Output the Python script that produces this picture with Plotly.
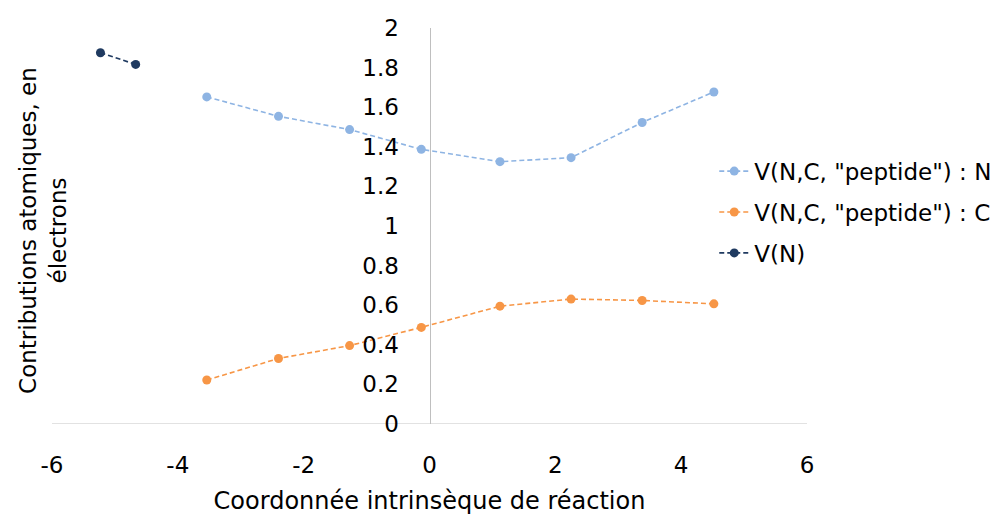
import plotly.graph_objects as go

# Data
x_main = [-3.54, -2.40, -1.27, -0.13, 1.12, 2.25, 3.38, 4.52]
y_pep_N = [1.652, 1.554, 1.487, 1.387, 1.325, 1.345, 1.523, 1.677]
y_pep_C = [0.222, 0.331, 0.396, 0.488, 0.595, 0.631, 0.624, 0.607]
x_VN = [-5.23, -4.67]
y_VN = [1.875, 1.816]

x_tickvals = [-6, -4, -2, 0, 2, 4, 6]
x_ticktext = ["-6", "-4", "-2", "0", "2", "4", "6"]

name_N = 'V(N,C, "peptide") : N'
name_C = 'V(N,C, "peptide") : C'
name_VN = 'V(N)'

col_N = "#8eb4e3"
col_C = "#f79646"
col_VN = "#1f3a60"

FONT = "DejaVu Sans"

fig = go.Figure()
for xs, ys, nm, col, grp in [
    (x_main, y_pep_N, name_N, col_N, "a"),
    (x_main, y_pep_C, name_C, col_C, "b"),
    (x_VN, y_VN, name_VN, col_VN, "c"),
]:
    fig.add_trace(go.Scatter(
        x=xs, y=ys, name=nm, mode="lines+markers", legendgroup=grp,
        line=dict(color=col, width=1.6, dash="5px,3px"),
        marker=dict(color=col, size=9),
    ))

fig.update_layout(
    width=1000, height=508,
    margin=dict(l=44, r=200, t=20, b=92),
    paper_bgcolor="white", plot_bgcolor="white",
    font=dict(family=FONT, size=22, color="#000000"),
    showlegend=True,
    legend=dict(
        x=0.876, y=0.535, xanchor="left", yanchor="middle",
        xref="paper", yref="paper",
        font=dict(family=FONT, size=23, color="#000000"),
        tracegroupgap=8, itemwidth=30, bgcolor="rgba(0,0,0,0)",
    ),
    xaxis=dict(
        range=[-6, 6], tickvals=x_tickvals, ticktext=x_ticktext,
        showgrid=False, zeroline=False, automargin=False,
        showline=False, ticks="outside", ticklen=20, tickcolor="rgba(0,0,0,0)",
        tickfont=dict(family=FONT, size=23),
        title=dict(text="Coordonnée intrinsèque de réaction",
                   font=dict(family=FONT, size=24), standoff=15),
        anchor="y",
    ),
    yaxis=dict(
        range=[0, 2], dtick=0.2, tick0=0, showgrid=False, zeroline=False,
        showline=True, linecolor="#bfbfbf", linewidth=1, automargin=False,
        anchor="free", position=0.5,
        ticks="outside", ticklen=26, tickcolor="rgba(0,0,0,0)",
        tickfont=dict(family=FONT, size=23),
        tickformat="~g",
    ),
    shapes=[dict(type="line", xref="paper", yref="y", x0=0, x1=1, y0=0, y1=0,
                 line=dict(color="#d9d9d9", width=1.5), layer="below")],
    annotations=[dict(
        text="Contributions atomiques, en<br>électrons",
        xref="paper", yref="paper", x=-0.012, y=0.49,
        xanchor="center", yanchor="middle", textangle=-90, showarrow=False,
        font=dict(family=FONT, size=23, color="#000000"),
    )],
)

fig.write_html("out.html")
